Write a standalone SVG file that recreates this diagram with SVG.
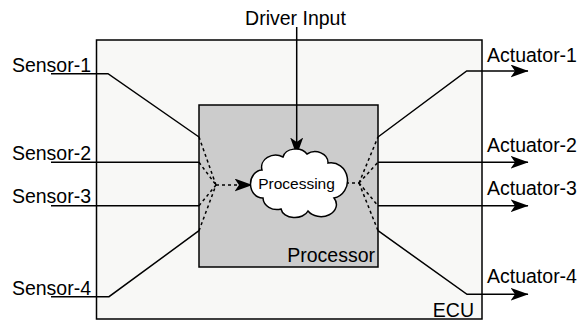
<svg xmlns="http://www.w3.org/2000/svg" width="579" height="320" viewBox="0 0 579 320">
  <defs>
    <marker id="arr" viewBox="0 0 18 13" markerWidth="18" markerHeight="13" refX="17.5" refY="6.5" orient="auto" markerUnits="userSpaceOnUse">
      <path d="M0,0 L18,6.5 L0,13 L4.5,6.5 Z" fill="#000"/>
    </marker>
  </defs>
  <style>
    .lbl { font-family: "Liberation Sans", Arial, sans-serif; font-size: 19.5px; fill: #000; }
    .small { font-family: "Liberation Sans", Arial, sans-serif; font-size: 15.5px; fill: #000; }
    .ln { fill: none; stroke: #000; stroke-width: 1.5; }
    .dash { fill: none; stroke: #000; stroke-width: 1.5; stroke-dasharray: 3 3; }
    .arrow { marker-end: url(#arr); }
  </style>
  <rect width="579" height="320" fill="#fff"/>
  <g id="ecu">
    <rect x="96.5" y="40" width="385.5" height="279" fill="#f8f8f6" stroke="#000" stroke-width="1.5"/>
    <text class="lbl" x="474" y="316.5" text-anchor="end">ECU</text>
  </g>
  <g id="processor">
    <rect x="199" y="105" width="179" height="162" fill="#cccccc" stroke="#000" stroke-width="1.5"/>
    <text class="lbl" x="375" y="262" text-anchor="end">Processor</text>
  </g>
  <g id="sensor-1"><text class="lbl" x="91" y="71.5" text-anchor="end">Sensor-1</text></g>
  <g id="sensor-2"><text class="lbl" x="91" y="160" text-anchor="end">Sensor-2</text></g>
  <g id="sensor-3"><text class="lbl" x="91" y="203" text-anchor="end">Sensor-3</text></g>
  <g id="sensor-4"><text class="lbl" x="91" y="295" text-anchor="end">Sensor-4</text></g>
  <g id="actuator-1"><text class="lbl" x="487" y="61.5">Actuator-1</text></g>
  <g id="actuator-2"><text class="lbl" x="487" y="151.5">Actuator-2</text></g>
  <g id="actuator-3"><text class="lbl" x="487" y="195">Actuator-3</text></g>
  <g id="actuator-4"><text class="lbl" x="487" y="283">Actuator-4</text></g>
  <g id="driver-input"><text class="lbl" x="295.5" y="25" text-anchor="middle">Driver Input</text></g>
  <g id="connectors">
    <polyline class="ln" points="51,73.7 108,73.7 199,137"/>
    <line class="ln" x1="51" y1="162.3" x2="199" y2="162.3"/>
    <line class="ln" x1="51" y1="205.7" x2="199" y2="205.7"/>
    <polyline class="ln" points="51,296.7 109,296.7 199,230.7"/>
    <line class="dash" x1="199" y1="137" x2="216" y2="185"/>
    <line class="dash" x1="199" y1="162.3" x2="216" y2="185"/>
    <line class="dash" x1="199" y1="205.7" x2="216" y2="185"/>
    <line class="dash" x1="199" y1="230.7" x2="216" y2="185"/>
    <line class="dash arrow" x1="216" y1="185" x2="252" y2="185"/>
    <line class="dash" x1="340" y1="183" x2="359" y2="183"/>
    <line class="dash" x1="359" y1="183" x2="378" y2="137"/>
    <line class="dash" x1="359" y1="183" x2="378" y2="162.3"/>
    <line class="dash" x1="359" y1="183" x2="378" y2="205.7"/>
    <line class="dash" x1="359" y1="183" x2="378" y2="230.7"/>
    <polyline class="ln arrow" points="378,137 466.7,71 528,71"/>
    <line class="ln arrow" x1="378" y1="162.3" x2="528" y2="162.3"/>
    <line class="ln arrow" x1="378" y1="205.7" x2="528" y2="205.7"/>
    <polyline class="ln arrow" points="378,230.7 467,294.3 528,294.3"/>
    <line class="ln arrow" x1="296.7" y1="27" x2="296.7" y2="155"/>
  </g>
  <g id="processing">
    <path d="M262,170 A14,12 0 0 1 283,157 A13,10 0 0 1 307,154 A13,11 0 0 1 328,163 A13,14 0 0 1 334,198 A14,11 0 0 1 308,211 A14,10 0 0 1 281,209 A14,12 0 0 1 263,198 A12,14 0 0 1 262,170 Z" fill="#fff" stroke="#000" stroke-width="1.5"/>
    <text class="small" x="296.5" y="188.5" text-anchor="middle">Processing</text>
  </g>
</svg>
